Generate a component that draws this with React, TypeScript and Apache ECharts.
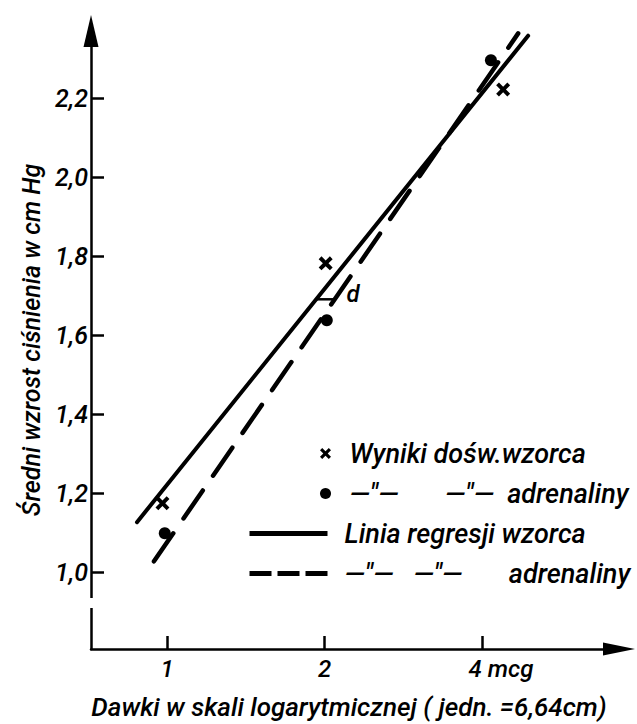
import React, { useEffect, useRef } from "react";
import * as echarts from "echarts";

// Axis ticks
const doseTicks = [1, 2, 4];
const pressureTicks = [1.0, 1.2, 1.4, 1.6, 1.8, 2.0, 2.2];

// Experimental points
const standardDoses = [0.98, 2.01, 4.39];
const standardResponses = [1.175, 1.782, 2.222];
const adrenalineDoses = [0.99, 2.02, 4.16];
const adrenalineResponses = [1.099, 1.638, 2.296];

// Regression lines (end points)
const standardLineDoses = [0.876, 4.9];
const standardLineValues = [1.127, 2.358];
const adrenalineLineDoses = [0.944, 4.69];
const adrenalineLineValues = [1.028, 2.364];

// "d" distance marker
const dLinkDoses = [1.93, 2.09];
const dLinkValues = [1.691, 1.691];

const seriesNames = [
  "Wyniki dośw.wzorca",
  "—″—       —″—  adrenaliny",
  "Linia regresji wzorca",
  "—″—   —″—       adrenaliny",
];

const zip = (xs: number[], ys: number[]) => xs.map((x, i) => [x, ys[i]]);

const FONT = "Roboto";
const crossPath =
  "path://M2,0 L5,3 L8,0 L10,2 L7,5 L10,8 L8,10 L5,7 L2,10 L0,8 L3,5 L0,2 Z";

export default function App() {
  const ref = useRef<HTMLDivElement>(null);
  useEffect(() => {
    if (!ref.current) return;
    const chart = echarts.init(ref.current, null, { renderer: "svg" });
    const textBase = {
      fontFamily: FONT,
      fontStyle: "italic" as const,
      fontWeight: 500 as any,
      color: "#000",
    };
    const hiddenSymbol = { color: "rgba(0,0,0,0)", borderWidth: 0, opacity: 0 };
    chart.setOption({
      animation: false,
      backgroundColor: "#fff",
      textStyle: textBase,
      grid: { left: 91, right: 18, top: 31, bottom: 75, outerBoundsMode: "none" },
      xAxis: {
        type: "log",
        logBase: 2,
        min: 0.7155,
        max: 7.31,
        name: "Dawki w skali logarytmicznej ( jedn. =6,64cm)",
        nameLocation: "middle",
        nameGap: 45,
        nameTextStyle: { ...textBase, fontSize: 26, padding: [0, 12, 0, 0] },
        axisLine: {
          show: true,
          lineStyle: { color: "#000", width: 2.5 },
          symbol: ["none", "triangle"],
          symbolSize: [13, 32],
        },
        axisTick: {
          show: true,
          inside: true,
          length: 13,
          lineStyle: { color: "#000", width: 2.5 },
          customValues: doseTicks,
        },
        axisLabel: {
          ...textBase,
          fontSize: 24,
          margin: 8,
          customValues: doseTicks,
          formatter: (v: number) => {
            const r = Math.round(v);
            return r === 4 ? "{p| }4 mcg" : String(r);
          },
          rich: { p: { width: 38, fontSize: 24 } },
        },
        splitLine: { show: false },
      },
      yAxis: {
        type: "value",
        min: 0.806,
        max: 2.37,
        name: "Średni wzrost ciśnienia w cm Hg",
        nameLocation: "middle",
        nameRotate: 90,
        nameGap: 47,
        nameTextStyle: { ...textBase, fontSize: 25 },
        axisLine: {
          show: true,
          lineStyle: { color: "#000", width: 2.5 },
          symbol: ["none", "triangle"],
          symbolSize: [15, 32],
        },
        axisTick: {
          show: true,
          inside: true,
          length: 13,
          lineStyle: { color: "#000", width: 2.5 },
          customValues: pressureTicks,
        },
        axisLabel: {
          ...textBase,
          fontSize: 25,
          margin: 3,
          customValues: pressureTicks,
          formatter: (v: number) => v.toFixed(1).replace(".", ","),
        },
        splitLine: { show: false },
      },
      legend: [
        {
          orient: "vertical",
          left: 320,
          top: 440,
          padding: 0,
          itemWidth: 24,
          itemHeight: 11,
          itemGap: 13,
          selectedMode: false,
          data: [seriesNames[0], seriesNames[1]],
          textStyle: { ...textBase, fontSize: 27, lineHeight: 26, padding: [0, 0, 0, 7] },
        },
        {
          orient: "vertical",
          left: 247,
          top: 520,
          padding: 0,
          itemWidth: 78,
          itemHeight: 14,
          itemGap: 13,
          selectedMode: false,
          data: [
            {
              name: seriesNames[2],
              lineStyle: { width: 5, cap: "butt" },
              itemStyle: hiddenSymbol,
            },
            {
              name: seriesNames[3],
              lineStyle: { width: 5, type: [22, 6], cap: "butt" },
              itemStyle: hiddenSymbol,
            },
          ],
          textStyle: { ...textBase, fontSize: 27, lineHeight: 26, padding: [0, 0, 0, 12] },
        },
      ],
      series: [
        {
          name: seriesNames[2],
          type: "line",
          data: zip(standardLineDoses, standardLineValues),
          symbol: "none",
          lineStyle: { color: "#000", width: 4, cap: "round" },
          itemStyle: { color: "#000" },
          z: 2,
        },
        {
          name: seriesNames[3],
          type: "line",
          data: zip(adrenalineLineDoses, adrenalineLineValues),
          symbol: "none",
          lineStyle: { color: "#000", width: 4.5, type: [34, 18], cap: "round" },
          itemStyle: { color: "#000" },
          z: 2,
        },
        {
          name: "d",
          type: "line",
          data: zip(dLinkDoses, dLinkValues),
          symbol: "none",
          lineStyle: { color: "#000", width: 2.5 },
          endLabel: {
            show: true,
            formatter: "d",
            distance: 12,
            offset: [0, -5],
            ...textBase,
            fontSize: 24,
          },
          z: 2,
        },
        {
          name: seriesNames[0],
          type: "scatter",
          data: zip(standardDoses, standardResponses),
          symbol: crossPath,
          symbolSize: 14,
          itemStyle: { color: "#000", opacity: 1 },
          z: 3,
        },
        {
          name: seriesNames[1],
          type: "scatter",
          data: zip(adrenalineDoses, adrenalineResponses),
          symbol: "circle",
          symbolSize: 12,
          itemStyle: { color: "#000", opacity: 1 },
          z: 3,
        },
      ],
      graphic: [
        {
          type: "rect",
          shape: { x: 84, y: 598, width: 14, height: 10 },
          style: { fill: "#fff" },
          z: 100,
        },
      ],
    });
    return () => chart.dispose();
  }, []);
  return (
    <div
      ref={ref}
      style={{ position: "fixed", left: 0, top: 0, width: 637, height: 724 }}
    />
  );
}
